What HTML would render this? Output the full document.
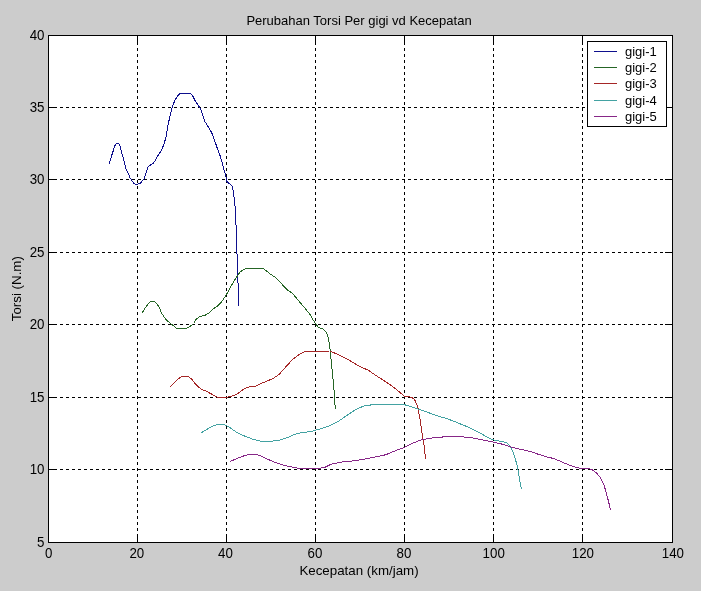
<!DOCTYPE html>
<html><head><meta charset="utf-8"><style>
html,body{margin:0;padding:0;background:#cccccc;}
svg{display:block;will-change:transform;}
text{font-family:"Liberation Sans",sans-serif;font-size:13.333px;fill:#000;}
</style></head><body>
<svg width="701" height="591" viewBox="0 0 701 591">
<rect x="0" y="0" width="701" height="591" fill="#cccccc"/>
<rect x="48" y="35" width="624" height="507" fill="#ffffff"/>
<g stroke="#000" stroke-width="1" stroke-dasharray="3 3" shape-rendering="crispEdges" fill="none">
<line x1="48" y1="469.5" x2="672" y2="469.5"/><line x1="48" y1="397.5" x2="672" y2="397.5"/><line x1="48" y1="324.5" x2="672" y2="324.5"/><line x1="48" y1="252.5" x2="672" y2="252.5"/><line x1="48" y1="179.5" x2="672" y2="179.5"/><line x1="48" y1="107.5" x2="672" y2="107.5"/>
</g>
<g stroke="#000" stroke-width="1" stroke-dasharray="3 3" shape-rendering="crispEdges" fill="none">
<line x1="137.5" y1="543" x2="137.5" y2="35"/><line x1="226.5" y1="543" x2="226.5" y2="35"/><line x1="315.5" y1="543" x2="315.5" y2="35"/><line x1="404.5" y1="543" x2="404.5" y2="35"/><line x1="493.5" y1="543" x2="493.5" y2="35"/><line x1="582.5" y1="543" x2="582.5" y2="35"/>
</g>
<g stroke="#000" stroke-width="1" shape-rendering="crispEdges" fill="none">
<line x1="48" y1="469.5" x2="57" y2="469.5"/><line x1="665" y1="469.5" x2="672" y2="469.5"/><line x1="48" y1="397.5" x2="57" y2="397.5"/><line x1="665" y1="397.5" x2="672" y2="397.5"/><line x1="48" y1="324.5" x2="57" y2="324.5"/><line x1="665" y1="324.5" x2="672" y2="324.5"/><line x1="48" y1="252.5" x2="57" y2="252.5"/><line x1="665" y1="252.5" x2="672" y2="252.5"/><line x1="48" y1="179.5" x2="57" y2="179.5"/><line x1="665" y1="179.5" x2="672" y2="179.5"/><line x1="48" y1="107.5" x2="57" y2="107.5"/><line x1="665" y1="107.5" x2="672" y2="107.5"/><line x1="137.5" y1="543" x2="137.5" y2="534"/><line x1="137.5" y1="35" x2="137.5" y2="45"/><line x1="226.5" y1="543" x2="226.5" y2="534"/><line x1="226.5" y1="35" x2="226.5" y2="45"/><line x1="315.5" y1="543" x2="315.5" y2="534"/><line x1="315.5" y1="35" x2="315.5" y2="45"/><line x1="404.5" y1="543" x2="404.5" y2="534"/><line x1="404.5" y1="35" x2="404.5" y2="45"/><line x1="493.5" y1="543" x2="493.5" y2="534"/><line x1="493.5" y1="35" x2="493.5" y2="45"/><line x1="582.5" y1="543" x2="582.5" y2="534"/><line x1="582.5" y1="35" x2="582.5" y2="45"/>
<rect x="48.5" y="35.5" width="624" height="507"/>
</g>
<g fill="none" stroke-width="1" stroke-linejoin="round" shape-rendering="crispEdges">
<polyline points="109.2,164.2 110.6,159.2 112.0,154.5 113.4,150.3 114.3,146.6 115.7,144.8 116.6,143.4 118.5,143.4 119.9,145.2 120.8,149.0 122.2,154.5 123.6,159.2 125.0,164.8 126.4,170.3 128.3,173.6 130.1,177.8 132.0,181.0 134.3,183.8 136.6,184.3 138.5,183.8 140.3,183.4 142.2,181.0 144.1,178.7 146.2,172.7 148.0,166.7 150.4,165.0 152.7,163.8 155.1,160.8 156.9,157.3 159.3,153.7 161.6,150.1 162.8,147.2 164.6,141.9 166.4,135.9 167.7,126.5 169.5,118.2 171.3,111.1 172.4,106.9 174.8,100.4 177.8,95.7 180.1,93.5 183.7,93.3 190.2,93.3 192.6,95.7 195.0,100.4 198.5,105.7 200.9,109.9 203.3,117.0 205.0,121.7 209.2,128.3 212.1,133.6 215.1,141.9 218.3,151.2 220.3,156.2 221.8,161.3 223.9,169.4 225.4,174.5 226.6,180.1 226.9,181.6 229.4,183.7 232.3,186.2 233.0,189.7 233.5,194.8 234.5,199.4 235.3,210.3 236.3,230.6 236.9,250.9 237.7,275.3 238.4,291.5 238.7,306.5" stroke="#0e0f8d"/>
<polyline points="142.1,313.1 145.7,307.1 148.6,303.6 150.7,301.1 154.3,301.1 156.4,303.6 159.3,307.1 161.4,312.8 164.2,317.1 167.1,320.7 171.4,324.2 176.4,328.1 182.1,328.5 186.4,328.2 190.6,326.0 193.5,323.5 196.3,319.2 199.9,316.4 204.9,315.4 209.2,312.8 212.7,309.3 217.0,306.4 221.3,302.1 225.0,296.9 228.4,291.0 232.7,283.2 237.0,276.4 240.4,271.6 246.4,268.4 255.0,268.2 263.0,268.4 266.9,271.3 271.2,274.7 275.5,277.3 279.8,281.5 284.1,286.7 287.5,290.1 291.8,292.7 296.9,298.6 301.2,303.8 305.5,308.9 309.7,314.1 313.2,320.0 315.9,324.2 318.5,327.6 322.7,328.5 326.1,331.9 327.8,336.1 329.0,342.0 330.3,351.4 331.5,364.1 332.9,377.6 334.1,391.2 334.6,401.4 335.4,409.0" stroke="#256525"/>
<polyline points="170.1,386.7 173.6,383.3 177.6,379.3 182.1,376.4 188.4,376.4 191.8,379.3 195.2,383.8 198.1,386.7 201.5,389.2 206.1,391.2 210.6,393.5 216.4,397.0 222.1,397.3 226.6,397.2 231.2,396.4 235.8,394.7 240.3,391.8 244.6,388.5 249.1,387.0 256.0,386.2 262.8,382.8 268.5,380.5 273.7,378.2 279.4,374.0 283.4,369.7 287.9,364.5 292.5,359.6 299.3,354.3 303.9,352.0 308.5,351.2 315.3,351.2 329.9,351.0 337.6,354.3 348.6,359.8 359.6,366.4 368.4,370.3 377.1,376.3 385.9,381.8 393.6,387.3 400.2,392.7 404.6,396.5 411.2,397.1 414.5,399.3 417.8,407.0 420.0,419.1 422.2,434.5 424.4,447.7 425.5,458.7" stroke="#a52626"/>
<polyline points="201.5,432.6 206.1,429.8 211.7,426.5 218.2,424.3 223.7,424.3 228.4,426.5 233.0,429.8 238.6,433.5 245.1,436.3 252.5,439.1 259.9,441.0 269.2,441.3 278.5,440.6 285.9,438.2 293.3,435.0 298.9,433.2 306.3,432.2 313.7,430.8 320.0,429.0 328.8,426.2 337.6,421.8 346.4,415.8 355.2,409.9 364.0,405.9 374.9,404.4 385.9,404.2 403.5,404.4 412.3,407.0 421.1,409.9 430.0,413.2 435.1,414.9 441.0,416.9 446.9,418.6 453.7,421.2 460.5,424.0 467.2,426.7 474.0,430.1 480.8,433.5 485.8,436.4 490.9,438.9 496.0,440.6 502.8,441.5 507.0,443.1 509.5,445.3 512.1,449.9 514.6,456.7 517.1,465.1 518.8,474.5 520.5,484.6 521.4,489.3" stroke="#43a2a2"/>
<polyline points="230.2,461.4 235.8,459.1 241.4,456.7 248.8,454.3 256.2,454.3 261.8,456.2 268.3,459.5 274.7,462.3 282.2,464.7 289.6,466.6 298.9,468.4 310.0,468.8 317.4,468.8 325.0,467.3 331.0,464.2 342.0,462.0 353.0,460.9 364.0,459.3 374.9,457.1 385.9,454.7 394.7,451.0 403.5,447.7 412.3,443.3 421.1,440.0 429.9,438.2 436.8,437.6 443.5,436.9 460.5,436.9 469.8,437.2 477.4,438.9 485.8,440.6 494.3,442.3 502.8,444.3 511.2,447.0 519.7,449.1 525.0,450.3 532.1,452.1 539.3,454.6 546.4,456.8 553.5,458.5 560.7,461.4 567.8,464.5 574.9,467.1 580.6,468.5 587.8,468.5 592.0,469.5 596.3,472.8 599.9,477.1 604.2,485.6 607.0,495.6 609.2,504.2 610.3,509.6" stroke="#872787"/>
</g>
<rect x="587.5" y="41.5" width="79" height="85" fill="#fff" stroke="#000" shape-rendering="crispEdges"/>
<g shape-rendering="crispEdges">
<line x1="594" y1="51.5" x2="617" y2="51.5" stroke="#0e0f8d"/><text transform="translate(625,56) scale(1,1.0)" style="font-size:13px">gigi-1</text><line x1="594" y1="67.5" x2="617" y2="67.5" stroke="#256525"/><text transform="translate(625,72) scale(1,1.0)" style="font-size:13px">gigi-2</text><line x1="594" y1="83.5" x2="617" y2="83.5" stroke="#a52626"/><text transform="translate(625,88) scale(1,1.0)" style="font-size:13px">gigi-3</text><line x1="594" y1="100.5" x2="617" y2="100.5" stroke="#43a2a2"/><text transform="translate(625,105) scale(1,1.0)" style="font-size:13px">gigi-4</text><line x1="594" y1="116.5" x2="617" y2="116.5" stroke="#872787"/><text transform="translate(625,121) scale(1,1.0)" style="font-size:13px">gigi-5</text>
</g>
<text transform="translate(359,25) scale(1,1.0)" text-anchor="middle" style="font-size:13px">Perubahan Torsi Per gigi vd Kecepatan</text>
<text transform="translate(359,575) scale(1,1.0)" text-anchor="middle">Kecepatan (km/jam)</text>
<text transform="translate(21,288.7) rotate(-90) scale(1,1.0)" text-anchor="middle">Torsi (N.m)</text>
<text transform="translate(48.7,558) scale(1,1.09)" text-anchor="middle">0</text><text transform="translate(136.8,558) scale(1,1.09)" text-anchor="middle">20</text><text transform="translate(225.5,558) scale(1,1.09)" text-anchor="middle">40</text><text transform="translate(315,558) scale(1,1.09)" text-anchor="middle">60</text><text transform="translate(404,558) scale(1,1.09)" text-anchor="middle">80</text><text transform="translate(493.7,558) scale(1,1.09)" text-anchor="middle">100</text><text transform="translate(582.9,558) scale(1,1.09)" text-anchor="middle">120</text><text transform="translate(672.85,558) scale(1,1.09)" text-anchor="middle">140</text><text transform="translate(44.5,547) scale(1,1.09)" text-anchor="end">5</text><text transform="translate(44.5,474) scale(1,1.09)" text-anchor="end">10</text><text transform="translate(44.5,402) scale(1,1.09)" text-anchor="end">15</text><text transform="translate(44.5,329) scale(1,1.09)" text-anchor="end">20</text><text transform="translate(44.5,257) scale(1,1.09)" text-anchor="end">25</text><text transform="translate(44.5,184) scale(1,1.09)" text-anchor="end">30</text><text transform="translate(44.5,112) scale(1,1.09)" text-anchor="end">35</text><text transform="translate(44.5,40) scale(1,1.09)" text-anchor="end">40</text>
</svg>
</body></html>
